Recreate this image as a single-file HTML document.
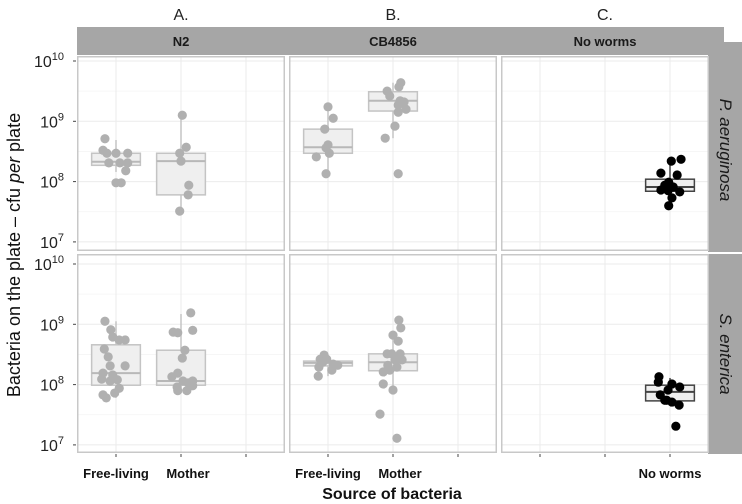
<!DOCTYPE html>
<html><head><meta charset="utf-8"><style>
body{margin:0;background:#fff;}
svg{display:block;font-family:"Liberation Sans",sans-serif;}
</style></head><body>
<svg id="c" width="742" height="504" viewBox="0 0 742 504"></svg>
<script>
// ---- data (log10 cfu per plate) ----
const colLabels = ["N2","CB4856","No worms"];
const rowLabels = ["P. aeruginosa","S. enterica"];
const panelLetters = ["A.","B.","C."];
const xCategories = [["Free-living","Mother",""],["Free-living","Mother",""],["","","No worms"]];
const yTickLabels = ["10","10","10","10"];
const yTickExps = [10,9,8,7];
// groups: [row, col, category index]
const groupRow = [0,0,0,0,0,1,1,1,1,1];
const groupCol = [0,0,1,1,2,0,0,1,1,2];
const groupCat = [0,1,0,1,2,0,1,0,1,2];
// box stats: q1, median, q3, whisker low, whisker high
const boxQ1  = [8.27,7.78,8.47,9.17,7.84, 7.99,7.99,8.31,8.23,7.73];
const boxMed = [8.33,8.34,8.57,9.34,7.91, 8.19,8.06,8.36,8.37,7.88];
const boxQ3  = [8.47,8.47,8.87,9.49,8.04, 8.66,8.57,8.39,8.51,7.99];
const boxLo  = [8.16,7.51,8.13,8.72,7.73, 7.78,7.90,8.14,7.91,7.70];
const boxHi  = [8.69,9.10,9.24,9.64,8.34, 9.05,9.17,8.49,8.76,8.11];
// points per group: values and horizontal jitter (category units)
const ptVals = [
 [8.71,8.52,8.47,8.47,8.47,8.31,8.31,8.31,8.18,7.98,7.98],
 [9.10,8.57,8.47,8.34,7.94,7.78,7.51],
 [9.24,9.05,8.87,8.61,8.56,8.47,8.41,8.13],
 [9.64,9.57,9.50,9.42,9.34,9.32,9.27,9.20,9.15,8.92,8.72,8.13],
 [8.34,8.37,8.14,8.11,7.99,7.94,7.91,7.86,7.85,7.83,7.73,7.60],
 [9.05,8.91,8.79,8.74,8.74,8.59,8.46,8.31,8.31,8.19,8.16,8.09,8.06,8.08,7.94,7.86,7.83,7.78],
 [8.87,8.86,9.19,8.90,8.57,8.44,8.19,8.13,8.06,8.06,8.03,7.98,7.96,7.90,7.90],
 [8.49,8.42,8.42,8.37,8.34,8.32,8.29,8.24,8.14],
 [9.07,8.94,8.82,8.72,8.51,8.51,8.51,8.41,8.41,8.32,8.29,8.21,8.24,8.01,7.91,7.51,7.11],
 [8.13,8.04,8.01,7.96,7.91,7.83,7.74,7.71,7.66,7.31,7.74]
];
const ptJit = [
 [-0.17,-0.20,-0.14,0,0.18,-0.11,0.06,0.18,0.15,0,0.08],
 [0.02,0.08,-0.02,0,0.12,0.11,-0.02],
 [0,0.08,-0.05,0,-0.03,0.02,-0.18,-0.03],
 [0.12,0.09,-0.09,-0.05,0.11,0.17,0.08,0.2,0.08,0.03,-0.12,0.08],
 [0.02,0.17,-0.14,0.11,-0.02,-0.08,0.05,-0.14,-0.03,0.15,0.03,-0.02],
 [-0.17,-0.08,-0.05,0.05,0.14,-0.18,-0.12,-0.09,0.14,-0.2,-0.05,-0.22,-0.09,0.02,0.05,-0.02,-0.2,-0.15],
 [-0.12,-0.05,0.15,0.18,0.06,0.02,-0.05,-0.14,0.03,0.18,0.11,0.18,-0.06,-0.05,0.09],
 [-0.06,-0.12,-0.02,-0.08,0.08,0.15,-0.14,0.06,-0.15],
 [0.09,0.12,0,0.08,-0.09,-0.02,0.11,0.03,0.14,-0.08,0.06,-0.15,-0.05,-0.15,0,-0.2,0.06],
 [-0.17,-0.18,0.03,0.15,-0.03,-0.15,-0.05,0.03,0.14,0.09,-0.08]
];
// ---- layout ----
const NS="http://www.w3.org/2000/svg";
const svg=document.getElementById('c');
function mk(t,a,p){const e=document.createElementNS(NS,t);for(const k in a)e.setAttribute(k,a[k]);(p||svg).appendChild(e);return e;}
const colX0=[77,289,501], colW=208;
const rowY0=[56,254], rowH=[195,199];
const rowTop10=[61,264], decade=60.3;
function xs(col,c){return colX0[col]+colW*(c+0.6)/3.2;}
function ys(row,v){return rowTop10[row]+(10-v)*decade;}

// panel letters
panelLetters.forEach((t,i)=>{const e=mk('text',{x:xs(i,1),y:20,'text-anchor':'middle','font-size':16,fill:'#222'});e.textContent=t;

});
// top strip
const ts=mk('rect',{x:77,y:27,width:647,height:28,fill:'#a6a6a6'});


colLabels.forEach((t,i)=>{const e=mk('text',{x:colX0[i]+colW/2,y:46,'text-anchor':'middle','font-size':13,'font-weight':'bold',fill:'#1a1a1a'});e.textContent=t;

});
// right strip
rowLabels.forEach((t,r)=>{const rr=mk('rect',{x:708,y:r==0?42:254,width:34,height:r==0?210:200,fill:'#a6a6a6'});


const cy=r==0?150:354;const e=mk('text',{x:720,y:cy,'text-anchor':'middle','font-size':17,'font-style':'italic',fill:'#1a1a1a',transform:`rotate(90 720 ${cy})`});e.textContent=t;

});

// panels
for(let r=0;r<2;r++){for(let c=0;c<3;c++){
 const g=mk('g',{});
 
 
 mk('rect',{x:colX0[c],y:rowY0[r],width:colW,height:rowH[r],fill:'#fff'},g);
 // minor gridlines
 for(let k=0;k<4;k++){const v=yTickExps[k]-0.5;const y=ys(r,v);if(y>rowY0[r]&&y<rowY0[r]+rowH[r])mk('line',{x1:colX0[c],x2:colX0[c]+colW,y1:y,y2:y,stroke:'#f4f4f4','stroke-width':0.8},g);}
 yTickExps.forEach(v=>{const y=ys(r,v);mk('line',{x1:colX0[c],x2:colX0[c]+colW,y1:y,y2:y,stroke:'#ebebeb','stroke-width':1},g);});
 for(let k=0;k<3;k++){const x=xs(c,k);mk('line',{x1:x,x2:x,y1:rowY0[r],y2:rowY0[r]+rowH[r],stroke:'#ebebeb','stroke-width':1},g);}
 mk('rect',{x:colX0[c]+0.75,y:rowY0[r]+0.75,width:colW-1.5,height:rowH[r]-1.5,fill:'none',stroke:'#c8c8c8','stroke-width':1.5},g);
}}
// y axes
for(let r=0;r<2;r++){yTickExps.forEach((v,i)=>{const y=ys(r,v);
 mk('line',{x1:73,x2:76,y1:y,y2:y,stroke:'#444'});
 const t=mk('text',{x:64,y:y+6,'text-anchor':'end','font-size':16,fill:'#222'});
 
 
 const a=document.createElementNS(NS,'tspan');a.textContent=yTickLabels[i];t.appendChild(a);
 const b=document.createElementNS(NS,'tspan');b.setAttribute('dy','-7');b.setAttribute('font-size','11');b.textContent=String(v);t.appendChild(b);
});}
// x ticks and labels
for(let c=0;c<3;c++){for(let k=0;k<3;k++){const x=xs(c,k);mk('line',{x1:x,x2:x,y1:454,y2:457,stroke:'#444'});
 if(xCategories[c][k]){const e=mk('text',{x:x+(k==1?7:0),y:478,'text-anchor':'middle','font-size':13,'font-weight':'bold',fill:'#111'});e.textContent=xCategories[c][k];
 
 }}}
const xt=mk('text',{x:392,y:499,'text-anchor':'middle','font-size':16,'font-weight':'bold',fill:'#111'});xt.textContent='Source of bacteria';


const yt=mk('text',{x:0,y:0,'text-anchor':'middle','font-size':18,fill:'#111',transform:'translate(20 255) rotate(-90)'});


yt.innerHTML='Bacteria on the plate \u2013 cfu <tspan font-style="italic">per</tspan> plate';

// boxes and points
for(let i=0;i<groupRow.length;i++){
 const r=groupRow[i],c=groupCol[i],k=groupCat[i];
 const cx=xs(c,k),hw=colW/3.2*0.375;
 const dark=c==2;const sc=dark?'#444':'#c4c4c4';
 const g=mk('g',{});
 
 
 mk('line',{x1:cx,x2:cx,y1:ys(r,boxHi[i]),y2:ys(r,boxQ3[i]),stroke:sc,'stroke-width':1.5},g);
 mk('line',{x1:cx,x2:cx,y1:ys(r,boxQ1[i]),y2:ys(r,boxLo[i]),stroke:sc,'stroke-width':1.5},g);
 mk('rect',{x:cx-hw,y:ys(r,boxQ3[i]),width:2*hw,height:ys(r,boxQ1[i])-ys(r,boxQ3[i]),fill:'#efefef',stroke:sc,'stroke-width':1.5},g);
 mk('line',{x1:cx-hw,x2:cx+hw,y1:ys(r,boxMed[i]),y2:ys(r,boxMed[i]),stroke:dark?'#444':'#b8b8b8','stroke-width':2},g);
 ptVals[i].forEach((v,j)=>{const p=mk('circle',{cx:xs(c,k+ptJit[i][j]),cy:ys(r,v),r:4.6,fill:dark?'#000':'#b0b0b0'},g);
  
  });
}
</script>
</body></html>
